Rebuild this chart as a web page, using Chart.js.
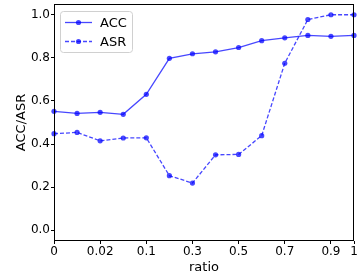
<!DOCTYPE html>
<html>
<head>
<meta charset="utf-8">
<script src="https://cdn.jsdelivr.net/npm/chart.js@4"></script>
<style>
  html, body { margin: 0; padding: 0; background: #fff; }
  #wrap { width: 363px; height: 280px; }
</style>
</head>
<body>
<div id="wrap"><canvas id="chart" width="363" height="280"></canvas></div>
<script>
const ratios = ['0', '0.01', '0.02', '0.05', '0.1', '0.2', '0.3', '0.4', '0.5', '0.6', '0.7', '0.8', '0.9', '1'];
const accValues = [0.552, 0.542, 0.547, 0.538, 0.631, 0.798, 0.819, 0.828, 0.848, 0.880, 0.893, 0.904, 0.900, 0.904];
const asrValues = [0.448, 0.454, 0.415, 0.428, 0.429, 0.253, 0.219, 0.350, 0.352, 0.439, 0.775, 0.978, 1.0, 1.0];
const yTicks = [0, 0.2, 0.4, 0.6, 0.8, 1.0];

const blue = 'rgba(0, 0, 255, 0.72)';
const font = { family: 'DejaVu Sans', size: 12 };

// show every other x label plus the last one
const showX = i => i % 2 === 0 || i === ratios.length - 1;

const framePlugin = {
    id: 'frame',
    afterDraw(chart) {
        const { ctx, chartArea: a } = chart;
        ctx.save();
        ctx.strokeStyle = '#000';
        ctx.lineWidth = 1;
        ctx.strokeRect(Math.round(a.left) + 0.5, Math.round(a.top) + 0.5,
            Math.round(a.right - a.left) - 1, Math.round(a.bottom - a.top) - 1);
        ctx.restore();
    }
};

const legendPlugin = {
    id: 'boxLegend',
    afterDraw(chart) {
        const { ctx } = chart;
        const x = 60.5, y = 11.5, w = 72, h = 41, r = 3;
        ctx.save();
        ctx.fillStyle = 'rgba(255,255,255,0.8)';
        ctx.strokeStyle = '#d0d0d0';
        ctx.lineWidth = 1;
        ctx.beginPath();
        ctx.roundRect(x, y, w, h, r);
        ctx.fill();
        ctx.stroke();
        chart.data.datasets.forEach((ds, i) => {
            const cy = 22.5 + i * 19;
            ctx.strokeStyle = ds.borderColor;
            ctx.lineWidth = ds.borderWidth;
            ctx.setLineDash(ds.borderDash || []);
            ctx.beginPath();
            ctx.moveTo(65, cy);
            ctx.lineTo(92, cy);
            ctx.stroke();
            ctx.setLineDash([]);
            ctx.fillStyle = ds.pointBackgroundColor;
            ctx.beginPath();
            ctx.arc(78.5, cy, ds.pointRadius, 0, Math.PI * 2);
            ctx.fill();
            ctx.fillStyle = '#000';
            ctx.font = '13px "DejaVu Sans"';
            ctx.textBaseline = 'middle';
            ctx.fillText(ds.label, 100, cy + 1);
        });
        ctx.restore();
    }
};

const ctx = document.getElementById('chart').getContext('2d');
new Chart(ctx, {
    type: 'line',
    data: {
        labels: ratios,
        datasets: [{
            label: 'ACC',
            data: accValues,
            borderColor: blue,
            backgroundColor: blue,
            pointBackgroundColor: blue,
            pointBorderWidth: 0,
            borderWidth: 1.3,
            pointRadius: 2.6,
            tension: 0
        }, {
            label: 'ASR',
            data: asrValues,
            borderColor: blue,
            backgroundColor: blue,
            pointBackgroundColor: blue,
            pointBorderWidth: 0,
            borderWidth: 1.3,
            borderDash: [4, 2],
            pointRadius: 2.6,
            tension: 0
        }]
    },
    options: {
        responsive: false,
        animation: false,
        layout: { padding: { left: 14, right: 9, top: 4, bottom: 0 } },
        plugins: {
            legend: { display: false },
            tooltip: { enabled: false }
        },
        scales: {
            x: {
                type: 'category',
                offset: false,
                border: { display: false },
                grid: {
                    display: true,
                    drawOnChartArea: false,
                    drawTicks: true,
                    tickLength: 3,
                    tickColor: c => showX(c.index) ? '#000' : 'rgba(0,0,0,0)'
                },
                ticks: {
                    autoSkip: false,
                    maxRotation: 0,
                    color: '#000',
                    font: font,
                    padding: 1,
                    callback: (v, i) => showX(i) ? ratios[i] : ''
                },
                title: {
                    display: true,
                    text: 'ratio',
                    color: '#000',
                    font: { family: 'DejaVu Sans', size: 13 },
                    padding: { top: 0, bottom: 5 }
                },
                afterFit: s => { s.height = 39; s.paddingLeft = 0; s.paddingRight = 0; }
            },
            y: {
                min: -0.05,
                max: 1.05,
                border: { display: false },
                grid: {
                    display: true,
                    drawOnChartArea: false,
                    drawTicks: true,
                    tickLength: 3,
                    tickColor: '#000'
                },
                afterBuildTicks: s => { s.ticks = yTicks.map(v => ({ value: v })); },
                ticks: {
                    color: '#000',
                    font: font,
                    padding: 1,
                    callback: v => Number(v).toFixed(1)
                },
                title: {
                    display: true,
                    text: 'ACC/ASR',
                    color: '#000',
                    font: { family: 'DejaVu Sans', size: 13 },
                    padding: { top: 0, bottom: 0 }
                },
                afterFit: s => { s.width = 40; s.paddingTop = 0; s.paddingBottom = 0; }
            }
        }
    },
    plugins: [framePlugin, legendPlugin]
});
</script>
</body>
</html>
